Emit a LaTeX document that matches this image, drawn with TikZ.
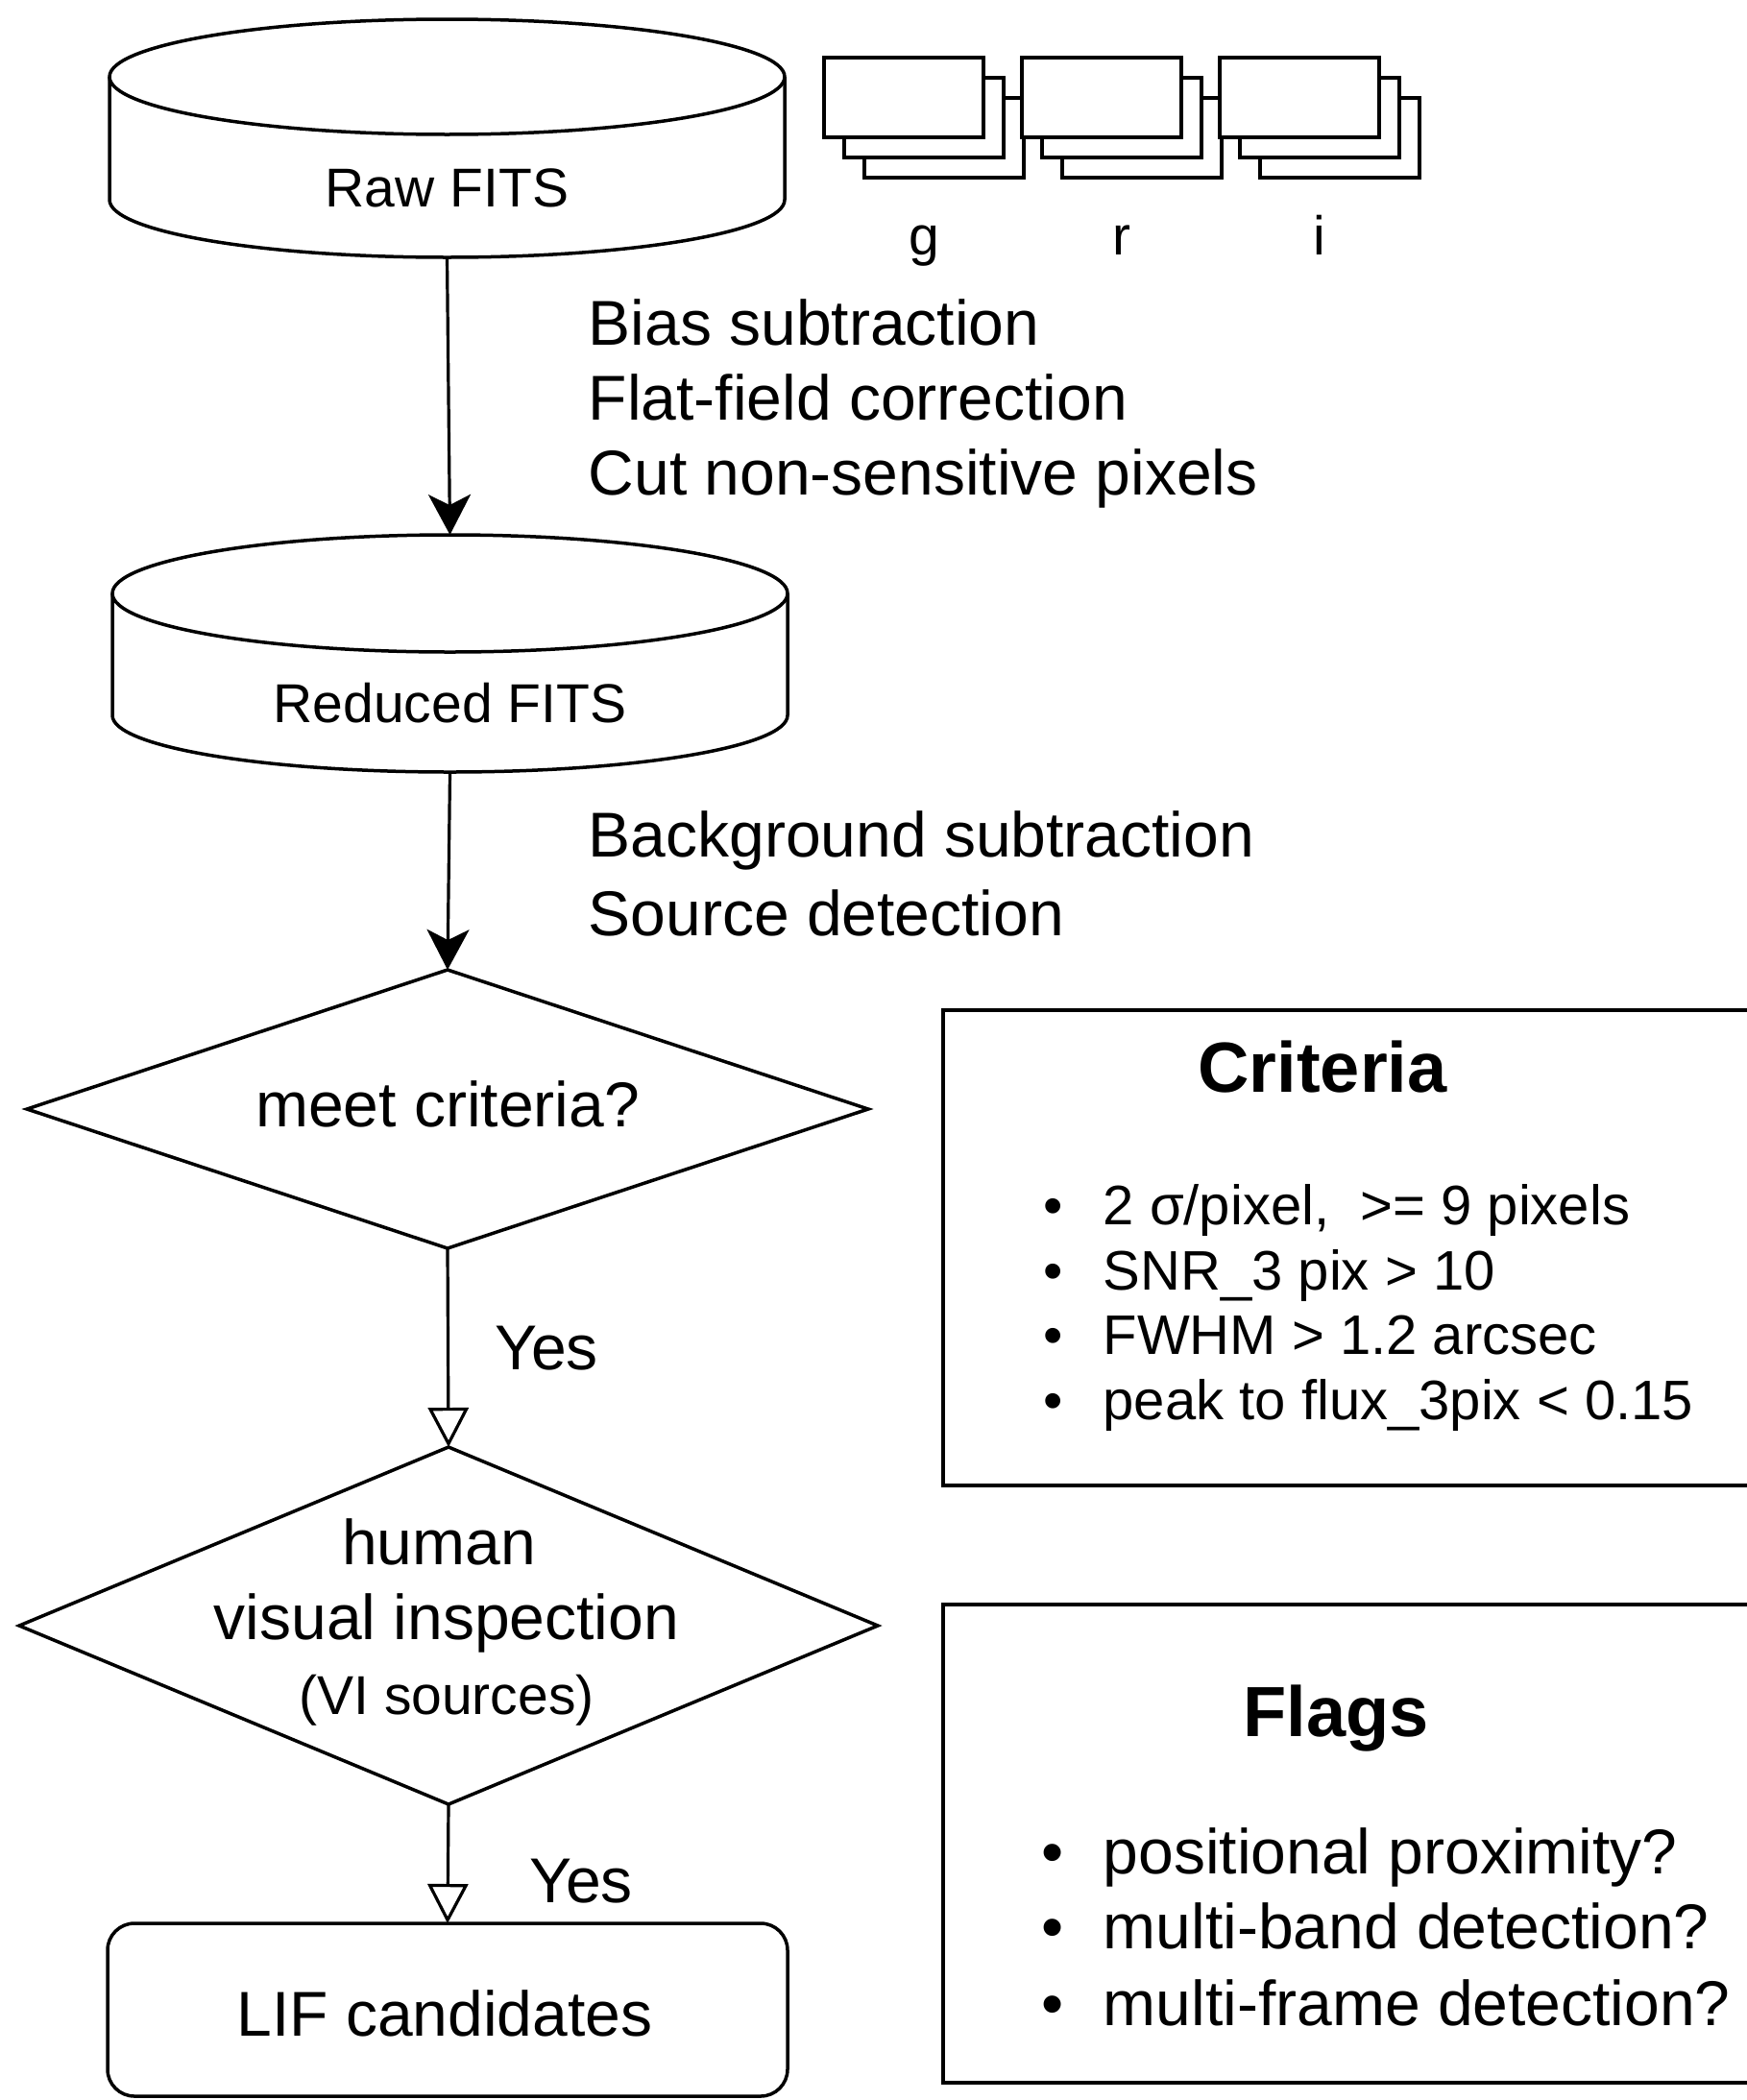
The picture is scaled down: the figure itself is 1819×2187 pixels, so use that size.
\documentclass[tikz,border=0pt]{standalone}
\usepackage{fontspec}
\setmainfont{Liberation Sans}
\usetikzlibrary{shapes.geometric,arrows.meta}
\begin{document}
\begin{tikzpicture}[x=1pt,y=-1pt,line width=3.5pt,
  fA/.style={font=\fontsize{57pt}{68pt}\selectfont,inner sep=0pt},
  fB/.style={font=\fontsize{66pt}{79pt}\selectfont,inner sep=0pt},
  fC/.style={font=\fontsize{58pt}{68pt}\selectfont,inner sep=0pt},
  fT/.style={font=\fontsize{74pt}{88pt}\selectfont\bfseries,inner sep=0pt},
  ghost/.style={draw=none,rectangle,inner sep=0pt,outer sep=0pt},
  dec/.style={diamond,draw,fill=white,inner sep=0pt,outer sep=0pt},
  panel/.style={draw,rectangle,fill=white,inner sep=0pt,outer sep=0pt,anchor=north west},
  frm/.style={draw,fill=white,line width=3.2pt},
  solidarrow/.style={-{Stealth[length=42pt,width=44pt,inset=11pt]},line width=3.2pt},
  openarrow/.style={-{Triangle[open,length=41pt,width=42pt,fill=white]},line width=3.2pt}]
\clip (0,0) rectangle (1819,2187);
\fill[white] (0,0) rectangle (1819,2187);

% ---- Raw FITS cylinder
\draw[fill=white] (114,80) -- (114,208) arc[start angle=180,end angle=360,x radius=351.5pt,y radius=60pt] -- (817,80);
\draw[fill=white] (465.5,80) ellipse [x radius=351.5pt,y radius=60pt];
\node[ghost,minimum width=703pt,minimum height=248pt] (raw) at (465.5,144) {};
\node[fA,anchor=base] (rawtxt) at (465.5,215) {Raw FITS};

% ---- frames g r i
\foreach \L/\n/\lab in {858/g/g,1064/r/r,1270/i/i}{
  \draw[frm] (\L+42,102) rectangle +(166,83);
  \draw[frm] (\L+21,81) rectangle +(166,83);
  \draw[frm] (\L,60) rectangle +(166,83);
  \node[fA,anchor=base] (lab\n) at (\L+104,265) {\lab};
}

% ---- processing text 1
\node[fB,anchor=base west] (bias) at (611,359) {Bias subtraction};
\node[fB,anchor=base west] (flat) at (611,437) {Flat-field correction};
\node[fB,anchor=base west] (cut) at (611,515) {Cut non-sensitive pixels};

% ---- Reduced FITS cylinder
\draw[fill=white] (117,618) -- (117,745) arc[start angle=180,end angle=360,x radius=351.5pt,y radius=59pt] -- (820,618);
\draw[fill=white] (468.5,618) ellipse [x radius=351.5pt,y radius=61pt];
\node[ghost,minimum width=703pt,minimum height=247pt] (red) at (468.5,680.5) {};
\node[fA,anchor=base] (redtxt) at (468.5,752) {Reduced FITS};

% ---- processing text 2
\node[fB,anchor=base west] (bkg) at (611,892) {Background subtraction};
\node[fB,anchor=base west] (src) at (611,974) {Source detection};

% ---- decision 1
\node[dec,minimum width=876pt,minimum height=290pt] (d1) at (466,1155) {};
\node[fB,anchor=base] (d1txt) at (466,1173) {meet criteria?};

% ---- decision 2
\node[dec,minimum width=894pt,minimum height=372pt] (d2) at (467,1693) {};
\node[fB,anchor=base] (d2a) at (457,1629) {human};
\node[fB,anchor=base] (d2b) at (465,1707) {visual inspection};
\node[fA,anchor=base] (d2c) at (465,1785) {(VI sources)};

% ---- result
\node[draw,fill=white,rectangle,rounded corners=28pt,minimum width=708pt,minimum height=180pt,inner sep=0pt,outer sep=0pt] (lif) at (466,2093) {};
\node[fB,anchor=base] (liftxt) at (463,2120) {LIF candidates};

% ---- connectors
\draw[solidarrow] (raw.south) -- (red.north);
\draw[solidarrow] (red.south) -- (d1.north);
\draw[openarrow] (d1.south) -- (d2.north);
\draw[openarrow] (d2.south) -- (lif.north);
\node[fB,anchor=base] (yes1) at (569,1426) {Yes};
\node[fB,anchor=base] (yes2) at (605,1981) {Yes};

% ---- Criteria panel
\node[panel,minimum width=900pt,minimum height=495pt] (crit) at (982,1052) {};
\node[fT,anchor=base] (crittitle) at (1377,1137) {Criteria};
\node[fC,anchor=base west] (c1) at (1085,1275) {\makebox[62pt][l]{•}2 σ/pixel,\ \ >= 9 pixels};
\node[fC,anchor=base west] (c2) at (1085,1343) {\makebox[62pt][l]{•}SNR\_3 pix > 10};
\node[fC,anchor=base west] (c3) at (1085,1410) {\makebox[62pt][l]{•}FWHM > 1.2 arcsec};
\node[fC,anchor=base west] (c4) at (1085,1478) {\makebox[62pt][l]{•}peak to flux\_3pix < 0.15};

% ---- Flags panel
\node[panel,minimum width=900pt,minimum height=498pt] (flags) at (982,1671) {};
\node[fT,anchor=base] (flagtitle) at (1391,1808) {Flags};
\node[fB,anchor=base west] (f1) at (1083,1951) {\makebox[64pt][l]{•}positional proximity?};
\node[fB,anchor=base west] (f2) at (1083,2029) {\makebox[64pt][l]{•}multi-band detection?};
\node[fB,anchor=base west] (f3) at (1083,2109) {\makebox[64pt][l]{•}multi-frame detection?};
\end{tikzpicture}
\end{document}
